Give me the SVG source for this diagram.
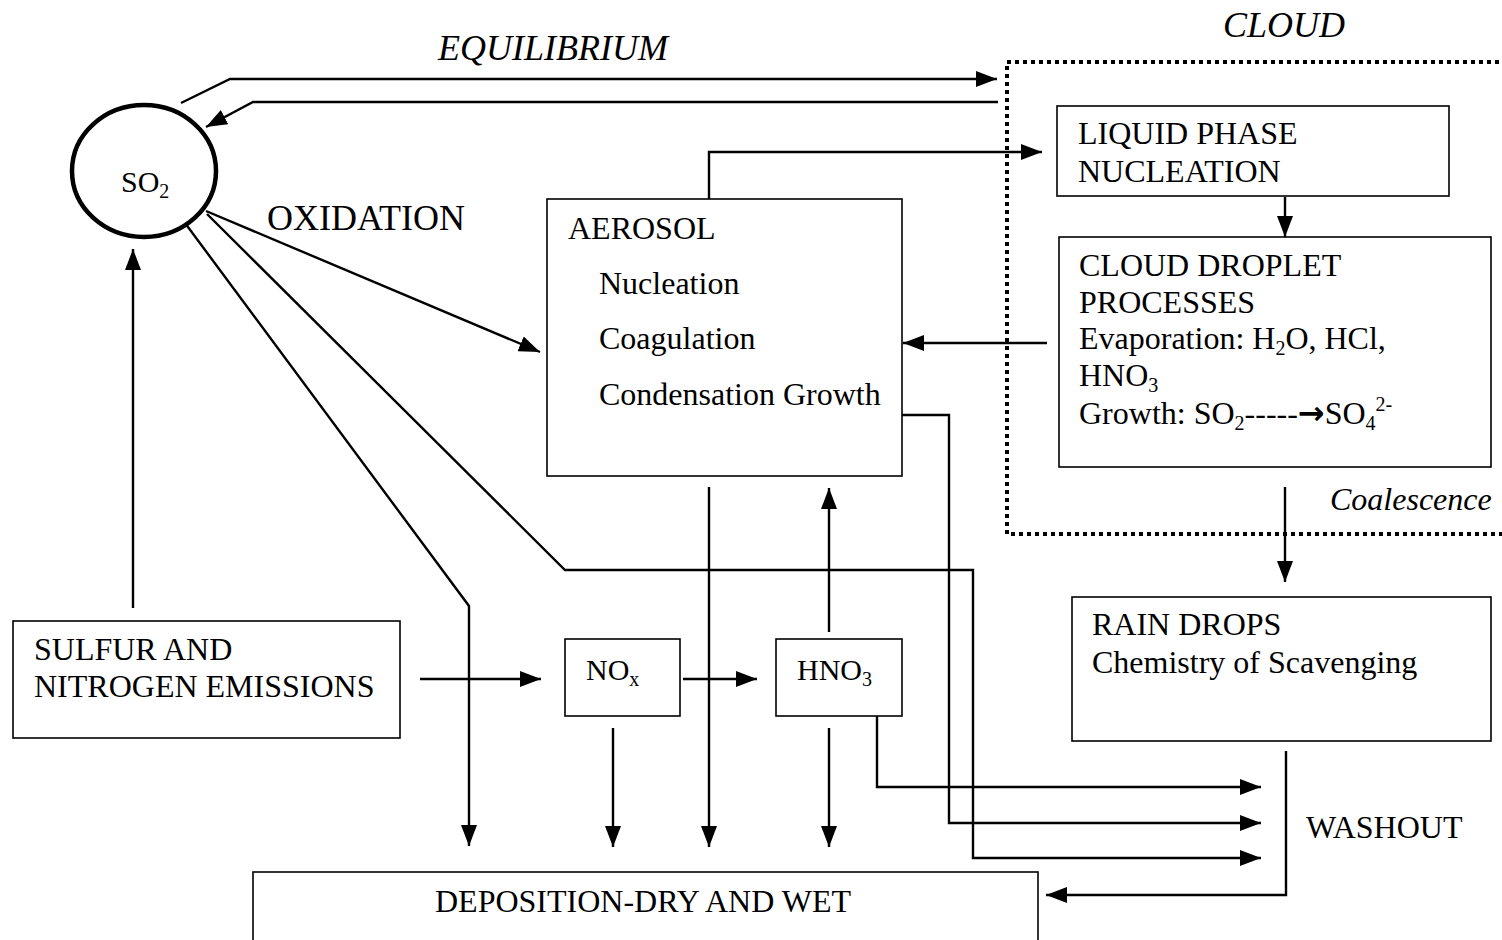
<svg xmlns="http://www.w3.org/2000/svg" width="1502" height="940" viewBox="0 0 1502 940">
<style>
text{font-family:"Liberation Serif","Times New Roman",serif;fill:#000}
.t{font-size:32px}
.s{font-size:30px}
.it{font-style:italic}
.box{fill:#fff;stroke:#000;stroke-width:1.6}
.c{fill:none;stroke:#000;stroke-width:2.4}
.a{marker-end:url(#ah)}
.sub{font-size:20px}
.arr{font-family:"DejaVu Sans",sans-serif;font-weight:bold;font-size:32px}
</style>
<defs>
<marker id="ah" markerUnits="userSpaceOnUse" markerWidth="22" markerHeight="16" refX="21" refY="8" orient="auto">
<path d="M0,0 L21,8 L0,16 z" fill="#000"/>
</marker>
</defs>
<rect width="1502" height="940" fill="#fff"/>

<g id="cloud-region">
<path d="M1507,62 H1007 V534 H1507" fill="none" stroke="#000" stroke-width="4" stroke-dasharray="4 4"/>
<text class="t it" x="1223" y="37" style="font-size:36px">CLOUD</text>
<text class="t it" x="1330" y="510">Coalescence</text>
</g>

<g id="labels">
<text class="it" x="438" y="60" style="font-size:36px">EQUILIBRIUM</text>
<text x="267" y="230" style="font-size:36px">OXIDATION</text>
<text class="t" x="1306" y="838">WASHOUT</text>
</g>

<g id="connectors">
<path class="c a" d="M181,103 L230,79 H997"/>
<path class="c a" d="M998,102 H253 L206,127"/>
<path class="c a" d="M709,199 V152 H1042"/>
<path class="c a" d="M1285,197 V237"/>
<path class="c a" d="M1047,343 H903"/>
<path class="c a" d="M1285,487 V582"/>
<path class="c a" d="M206,211 L540,352"/>
<path class="c a" d="M185,223 L469,606 V846"/>
<path class="c a" d="M207,214 L565,570 H973 V858 H1261"/>
<path class="c a" d="M902,415 H949 V823 H1261"/>
<path class="c a" d="M877,713 V787 H1261"/>
<path class="c a" d="M133,608 V249"/>
<path class="c a" d="M420,679 H541"/>
<path class="c a" d="M683,679 H757"/>
<path class="c a" d="M613,728 V847"/>
<path class="c a" d="M709,487 V847"/>
<path class="c a" d="M829,632 V488"/>
<path class="c a" d="M829,728 V847"/>
<path class="c a" d="M1286,751 V895 H1046"/>
</g>

<g id="so2">
<ellipse cx="144" cy="171" rx="72" ry="66" fill="#fff" stroke="#000" stroke-width="4.5"/>
<text class="s" x="121" y="192">SO<tspan class="sub" dy="6">2</tspan></text>
</g>

<g id="liquid-phase">
<rect class="box" x="1057" y="106" width="392" height="90"/>
<text class="t" x="1078" y="144">LIQUID PHASE</text>
<text class="t" x="1078" y="182">NUCLEATION</text>
</g>

<g id="cloud-droplet">
<rect class="box" x="1059" y="237" width="432" height="230"/>
<text class="t" x="1079" y="276">CLOUD DROPLET</text>
<text class="t" x="1079" y="313">PROCESSES</text>
<text class="t" x="1079" y="349">Evaporation: H<tspan class="sub" dy="6">2</tspan><tspan dy="-6">O, HCl,</tspan></text>
<text class="t" x="1079" y="386">HNO<tspan class="sub" dy="6">3</tspan></text>
<text class="t" x="1079" y="424">Growth: SO<tspan class="sub" dy="6">2</tspan><tspan dy="-6">-----</tspan><tspan class="arr">→</tspan><tspan>SO</tspan><tspan class="sub" dy="6">4</tspan><tspan class="sub" dy="-19">2-</tspan></text>
</g>

<g id="aerosol">
<rect class="box" x="547" y="199" width="355" height="277"/>
<text class="t" x="568" y="239">AEROSOL</text>
<text class="t" x="599" y="294">Nucleation</text>
<text class="t" x="599" y="349">Coagulation</text>
<text class="t" x="599" y="405">Condensation Growth</text>
</g>

<g id="emissions">
<rect class="box" x="13" y="621" width="387" height="117"/>
<text class="t" x="34" y="660">SULFUR AND</text>
<text class="t" x="34" y="697">NITROGEN EMISSIONS</text>
</g>

<g id="nox">
<rect class="box" x="565" y="639" width="115" height="77"/>
<text class="s" x="586" y="680">NO<tspan class="sub" dy="6">x</tspan></text>
</g>

<g id="hno3">
<rect class="box" x="776" y="639" width="126" height="77"/>
<text class="s" x="797" y="680">HNO<tspan class="sub" dy="6">3</tspan></text>
</g>

<g id="rain-drops">
<rect class="box" x="1072" y="597" width="419" height="144"/>
<text class="t" x="1092" y="635">RAIN DROPS</text>
<text class="t" x="1092" y="673">Chemistry of Scavenging</text>
</g>

<g id="deposition">
<rect class="box" x="253" y="872" width="785" height="80"/>
<text class="t" x="435" y="912">DEPOSITION-DRY AND WET</text>
</g>
</svg>
